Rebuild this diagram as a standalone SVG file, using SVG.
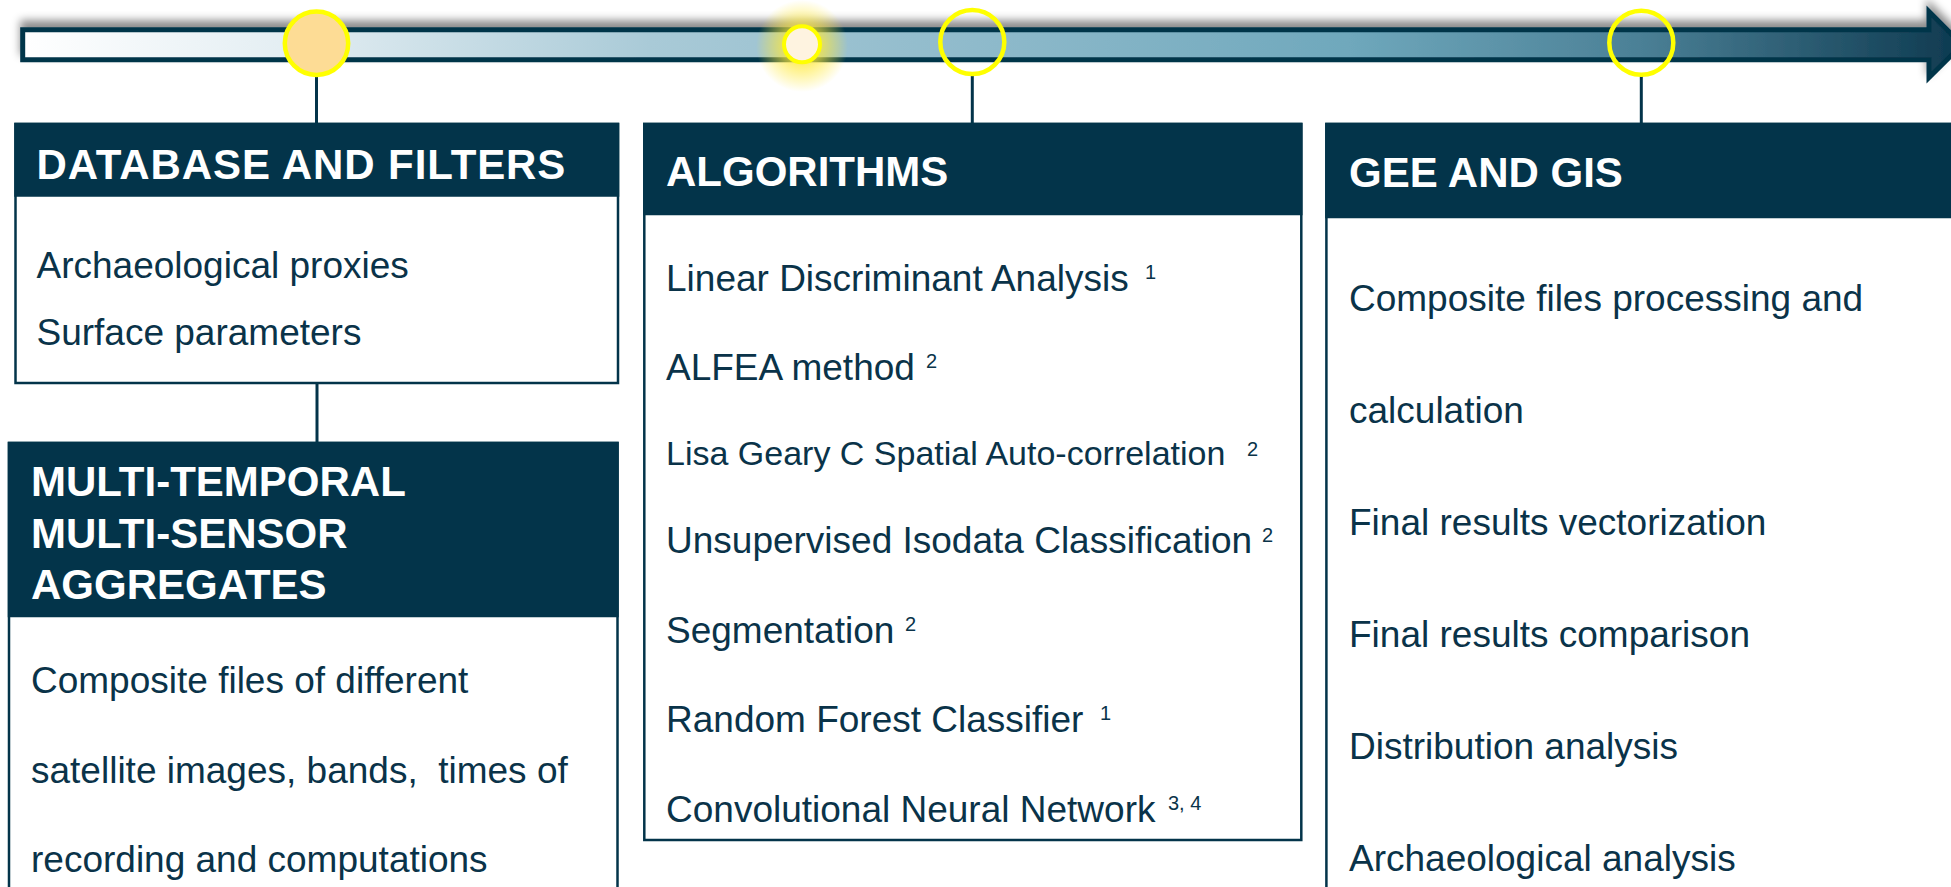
<svg xmlns="http://www.w3.org/2000/svg" width="1951" height="887" viewBox="0 0 1951 887">
  <defs>
    <linearGradient id="barFill" gradientUnits="userSpaceOnUse" x1="20" y1="0" x2="1960" y2="0">
      <stop offset="0" stop-color="#FFFFFF"/>
      <stop offset="0.145" stop-color="#E2EDF2"/>
      <stop offset="0.325" stop-color="#A9CAD7"/>
      <stop offset="0.505" stop-color="#8DB9CA"/>
      <stop offset="0.685" stop-color="#6FA8BC"/>
      <stop offset="0.835" stop-color="#4B8096"/>
      <stop offset="1" stop-color="#0E3A50"/>
    </linearGradient>
    <radialGradient id="glow" cx="0.5" cy="0.5" r="0.5">
      <stop offset="0.3" stop-color="#FFE93A" stop-opacity="0.85"/>
      <stop offset="1" stop-color="#FFE93A" stop-opacity="0"/>
    </radialGradient>
    <filter id="lift" x="-5%" y="-100%" width="110%" height="300%">
      <feGaussianBlur in="SourceAlpha" stdDeviation="4"/>
      <feOffset dy="-7" result="blurred"/>
      <feFlood flood-color="#000000" flood-opacity="0.45"/>
      <feComposite in2="blurred" operator="in"/>
      <feMerge>
        <feMergeNode/>
        <feMergeNode in="SourceGraphic"/>
      </feMerge>
    </filter>
  </defs>
  <style>
    .box { fill: #FFFFFF; stroke: #03344A; stroke-width: 2.5; }
    .head { fill: #03344A; }
    .title { font-family: "Liberation Sans", Arial, sans-serif; font-weight: bold; font-size: 42px; fill: #FFFFFF; }
    .wide { letter-spacing: 0.9px; }
    .item { font-family: "Liberation Sans", Arial, sans-serif; font-size: 37px; fill: #0A3349; }
    .small { font-size: 34px; }
    .sup { font-family: "Liberation Sans", Arial, sans-serif; font-size: 20px; fill: #0A3349; }
    .link { stroke: #03344A; stroke-width: 3; fill: none; }
    .ring { fill: none; stroke: #FFFF00; stroke-width: 4.5; }
  </style>

  <!-- timeline arrow -->
  <g id="timeline" filter="url(#lift)">
    <path d="M22.7,29.8 H1929 V11.5 L1962,44.8 L1929,77.5 V59.8 H22.7 Z" fill="url(#barFill)" stroke="#03344A" stroke-width="5" stroke-linejoin="miter"/>
  </g>

  <!-- connectors -->
  <g id="connectors">
    <line class="link" x1="316.5" y1="75" x2="316.5" y2="124"/>
    <line class="link" x1="317" y1="383" x2="317" y2="443"/>
    <line class="link" x1="972.3" y1="74" x2="972.3" y2="124"/>
    <line class="link" x1="1641.3" y1="75" x2="1641.3" y2="124"/>
  </g>

  <!-- timeline markers -->
  <g id="markers">
    <circle cx="316.5" cy="43.3" r="31.7" fill="#FDDC95" stroke="#FFFF00" stroke-width="4.5"/>
    <circle cx="802" cy="46" r="46" fill="url(#glow)"/>
    <circle cx="802" cy="44.3" r="18" fill="#FEF3E0" stroke="#FFFF00" stroke-width="4"/>
    <circle class="ring" cx="972.3" cy="42" r="32"/>
    <circle class="ring" cx="1641.3" cy="42.8" r="32"/>
  </g>

  <!-- database and filters -->
  <g id="database">
    <rect class="box" x="15.5" y="124" width="602.5" height="259"/>
    <rect class="head" x="14.25" y="122.75" width="605" height="74"/>
    <text class="title wide" x="36.5" y="179">DATABASE AND FILTERS</text>
    <text class="item" x="36.5" y="278">Archaeological proxies</text>
    <text class="item" x="36.5" y="345">Surface parameters</text>
  </g>

  <!-- multi-temporal aggregates -->
  <g id="aggregates">
    <rect class="box" x="9" y="443" width="608.5" height="470"/>
    <rect class="head" x="7.75" y="441.75" width="611" height="175.5"/>
    <text class="title" x="31" y="496">MULTI-TEMPORAL</text>
    <text class="title" x="31" y="548">MULTI-SENSOR</text>
    <text class="title" x="31" y="599">AGGREGATES</text>
    <text class="item" x="31" y="693">Composite files of different</text>
    <text class="item" x="31" y="783" xml:space="preserve">satellite images, bands,  times of</text>
    <text class="item" x="31" y="872">recording and computations</text>
  </g>

  <!-- algorithms -->
  <g id="algorithms">
    <rect class="box" x="644.3" y="124" width="657" height="716"/>
    <rect class="head" x="643" y="122.75" width="659.5" height="92.5"/>
    <text class="title" x="666" y="186">ALGORITHMS</text>
    <text class="item" x="666" y="291">Linear Discriminant Analysis</text>
    <text class="sup" x="1145" y="279">1</text>
    <text class="item" x="666" y="380">ALFEA method</text>
    <text class="sup" x="926" y="368">2</text>
    <text class="item small" x="666" y="465">Lisa Geary C Spatial Auto-correlation</text>
    <text class="sup" x="1247" y="456">2</text>
    <text class="item" x="666" y="553">Unsupervised Isodata Classification</text>
    <text class="sup" x="1262" y="542">2</text>
    <text class="item" x="666" y="643">Segmentation</text>
    <text class="sup" x="905" y="631">2</text>
    <text class="item" x="666" y="732">Random Forest Classifier</text>
    <text class="sup" x="1100" y="720">1</text>
    <text class="item" x="666" y="822">Convolutional Neural Network</text>
    <text class="sup" x="1168" y="810">3, 4</text>
  </g>

  <!-- GEE and GIS -->
  <g id="gee-gis">
    <rect class="box" x="1326.4" y="124" width="700" height="800"/>
    <rect class="head" x="1325.15" y="122.75" width="702" height="95.5"/>
    <text class="title" x="1349" y="187">GEE AND GIS</text>
    <text class="item" x="1349" y="311">Composite files processing and</text>
    <text class="item" x="1349" y="423">calculation</text>
    <text class="item" x="1349" y="535">Final results vectorization</text>
    <text class="item" x="1349" y="647">Final results comparison</text>
    <text class="item" x="1349" y="759">Distribution analysis</text>
    <text class="item" x="1349" y="871">Archaeological analysis</text>
  </g>
</svg>
